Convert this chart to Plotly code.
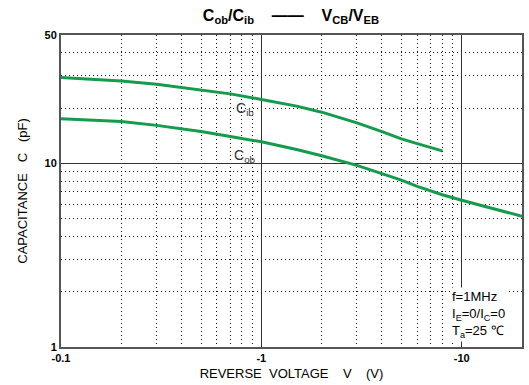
import plotly.graph_objects as go
import numpy as np

# Data
v_cib = [0.1, 0.2, 0.3, 0.5, 0.7, 1, 1.5, 2, 3, 4, 5, 6, 8]
c_cib = [29.3, 28.1, 27.0, 25.2, 23.9, 22.3, 20.5, 19.0, 16.6, 14.9, 13.6, 12.8, 11.7]
v_cob = [0.1, 0.2, 0.3, 0.5, 0.7, 1, 1.5, 2, 3, 4, 5, 6, 8, 10, 15, 20]
c_cob = [17.5, 16.9, 16.1, 14.9, 14.0, 13.1, 11.9, 11.0, 9.75, 8.8, 8.1, 7.5, 6.75, 6.3, 5.6, 5.15]

x_tickvals = [0.1, 1, 10, 20]
x_ticktext = ["-0.1", "-1", "-10", "-20"]
y_tickvals = [1, 10, 50]
y_ticktext = ["1", "10", "50"]

x_minor = [m * d for d in (0.1, 1) for m in range(2, 10)]
y_minor = [m for m in range(2, 10)] + [20, 30, 40]

green = "#169a4c"
font = "Liberation Sans, Arial, sans-serif"

fig = go.Figure()
fig.add_trace(go.Scatter(x=v_cib, y=c_cib, mode="lines", line=dict(color=green, width=3),
                         showlegend=False, hoverinfo="skip"))
fig.add_trace(go.Scatter(x=v_cob, y=c_cob, mode="lines", line=dict(color=green, width=3),
                         showlegend=False, hoverinfo="skip"))

fig.update_layout(
    width=529, height=385,
    margin=dict(l=61, r=5, t=35, b=38),
    paper_bgcolor="white", plot_bgcolor="white",
    font=dict(family=font, color="black"),
    title=dict(text="<b>C<sub>ob</sub>/C<sub>ib</sub>    ——    V<sub>CB</sub>/V<sub>EB</sub></b>",
               x=0.55, xanchor="center", y=0.975, yanchor="top",
               font=dict(size=16, family=font, color="black")),
    xaxis=dict(type="log", range=[-1, np.log10(20)],
               tickmode="array", tickvals=x_tickvals, ticktext=x_ticktext,
               tickfont=dict(size=11, family=font, color="black", weight="bold"),
               showgrid=True, gridcolor="#333", gridwidth=1,
               showline=True, linecolor="#555", linewidth=2, mirror=True,
               ticks="", zeroline=False,
               minor=dict(tickvals=x_minor, showgrid=True, gridcolor="#111", griddash="1px,3px", gridwidth=1),
               title=dict(text="REVERSE  VOLTAGE    V    (V)", standoff=6,
                          font=dict(size=13, family=font, color="black"))),
    yaxis=dict(type="log", range=[0, np.log10(50)],
               tickmode="array", tickvals=y_tickvals, ticktext=y_ticktext,
               tickfont=dict(size=11, family=font, color="black", weight="bold"),
               showgrid=True, gridcolor="#333", gridwidth=1,
               showline=True, linecolor="#555", linewidth=2, mirror=True,
               ticks="", zeroline=False,
               minor=dict(tickvals=y_minor, showgrid=True, gridcolor="#111", griddash="1px,3px", gridwidth=1),
               title=dict(text="CAPACITANCE   C   (pF)", standoff=14,
                          font=dict(size=13, family=font, color="black"))),
)

fig.add_annotation(x=np.log10(0.83), y=np.log10(19.8), xref="x", yref="y",
                   text="C<sub>ib</sub>", showarrow=False,
                   font=dict(size=14, family=font, color="#333"))
fig.add_annotation(x=np.log10(0.83), y=np.log10(11.0), xref="x", yref="y",
                   text="C<sub>ob</sub>", showarrow=False,
                   font=dict(size=14, family=font, color="#333"))
fig.add_annotation(x=np.log10(8.7), y=np.log10(1.06), xref="x", yref="y",
                   xanchor="left", yanchor="bottom", align="left",
                   text="f=1MHz<br>I<sub>E</sub>=0/I<sub>C</sub>=0<br>T<sub>a</sub>=25 ℃",
                   showarrow=False, bgcolor="white",
                   font=dict(size=13, family=font, color="black"))

fig.write_html("out.html")
